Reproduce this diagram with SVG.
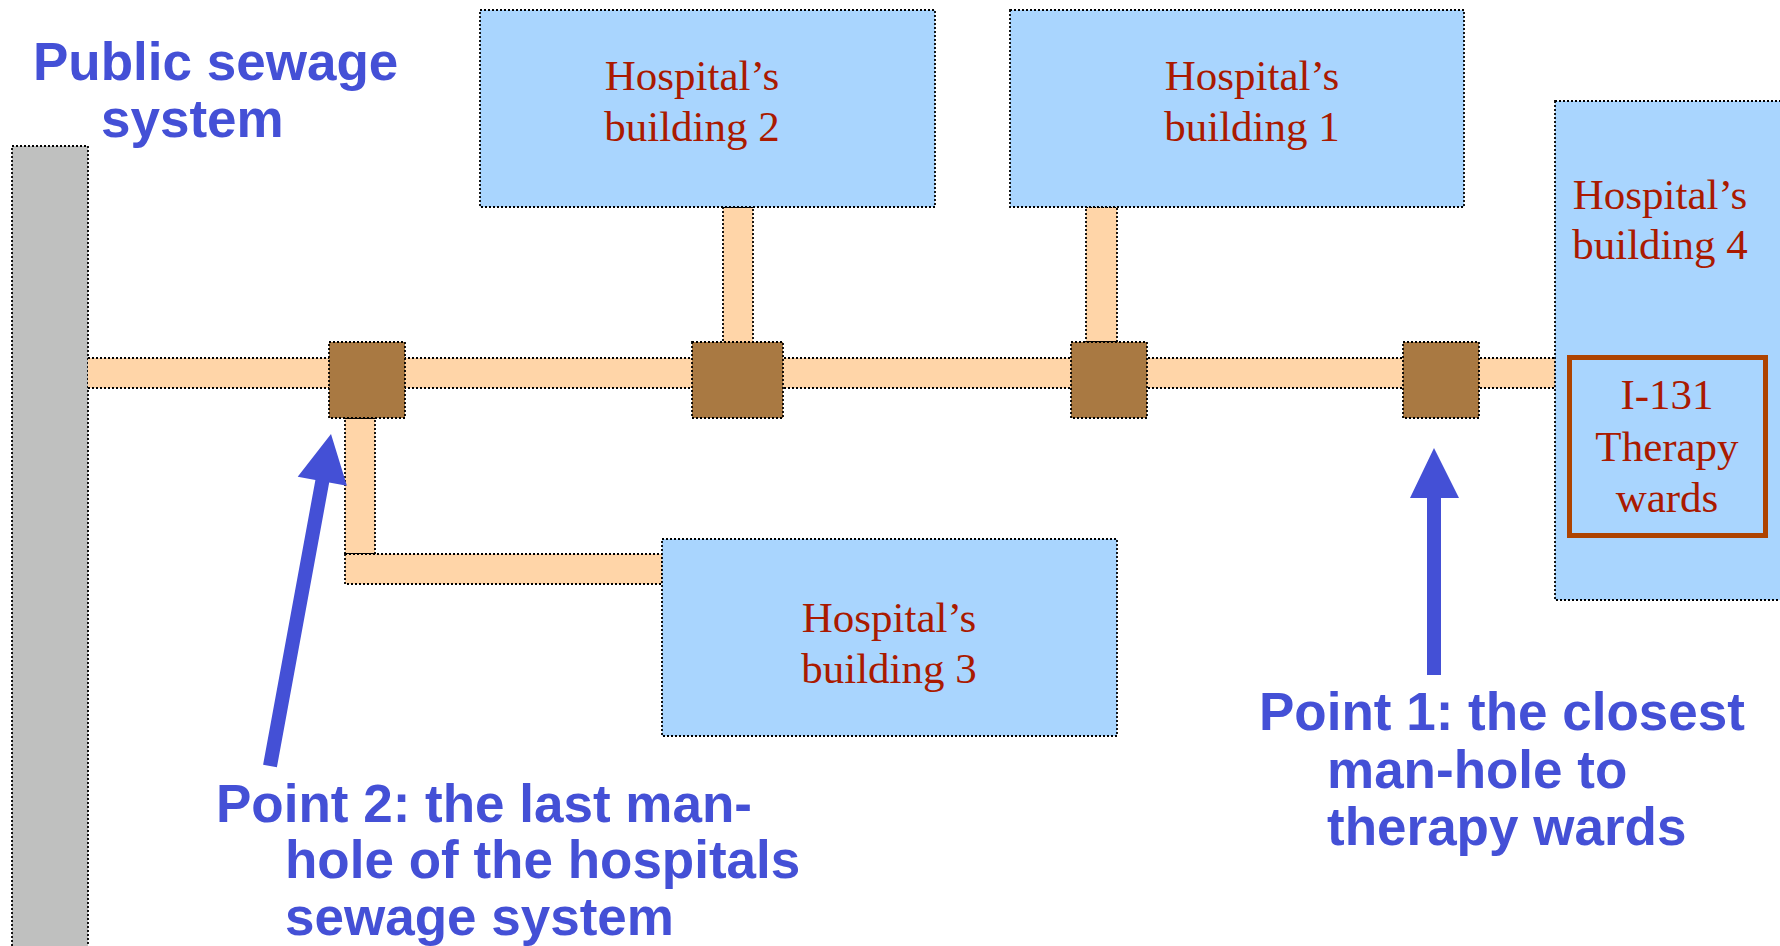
<svg xmlns="http://www.w3.org/2000/svg" width="1780" height="946" viewBox="0 0 1780 946">
<style>
.dot{stroke:#000;stroke-width:1.8;stroke-dasharray:2 2}
.bld{fill:#A9D5FE}
.pipe{fill:#FFD5A8}
.mh{fill:#A97942}
.btxt{font-family:"Liberation Serif","Times New Roman",serif;font-size:43px;fill:#AA1A00;text-anchor:middle}
.lbl{font-family:"Liberation Sans",Arial,sans-serif;font-weight:bold;font-size:53px;fill:#4450D6}
.arrow{fill:#4450D6}
</style>
<rect width="1780" height="946" fill="#fff"/>
<g id="public-sewer">
<rect x="12" y="146" width="76" height="820" fill="#BFC0BF" class="dot"/>
<text class="lbl" x="33" y="80">Public sewage</text>
<text class="lbl" x="101" y="137">system</text>
</g>
<g id="connectors">
<rect x="88" y="358" width="1467" height="30" class="pipe"/>
<line x1="88" y1="358" x2="1555" y2="358" class="dot"/>
<line x1="88" y1="388" x2="1555" y2="388" class="dot"/>
<rect x="723" y="207" width="30" height="135" class="pipe dot"/>
<rect x="1086" y="207" width="31" height="135" class="pipe dot"/>
<rect x="345" y="418" width="30" height="136" class="pipe dot"/>
<rect x="345" y="554" width="317" height="30" class="pipe dot"/>
</g>
<g id="building2">
<rect x="480" y="10" width="455" height="197" class="bld dot"/>
<text class="btxt" x="692" y="90">Hospital’s</text>
<text class="btxt" x="692" y="141">building 2</text>
</g>
<g id="building1">
<rect x="1010" y="10" width="454" height="197" class="bld dot"/>
<text class="btxt" x="1252" y="90">Hospital’s</text>
<text class="btxt" x="1252" y="141">building 1</text>
</g>
<g id="building3">
<rect x="662" y="539" width="455" height="197" class="bld dot"/>
<text class="btxt" x="889" y="632">Hospital’s</text>
<text class="btxt" x="889" y="683">building 3</text>
</g>
<g id="building4">
<rect x="1555" y="101" width="240" height="499" class="bld dot"/>
<text class="btxt" x="1660" y="209">Hospital’s</text>
<text class="btxt" x="1660" y="259">building 4</text>
</g>
<g id="therapy-wards">
<rect x="1569.5" y="357.5" width="196" height="178" fill="none" stroke="#AE4300" stroke-width="5"/>
<text class="btxt" x="1667" y="409">I-131</text>
<text class="btxt" x="1667" y="461">Therapy</text>
<text class="btxt" x="1667" y="512">wards</text>
</g>
<g id="manhole1"><rect x="329" y="342" width="76" height="76" class="mh dot"/></g>
<g id="manhole2"><rect x="692" y="342" width="91" height="76" class="mh dot"/></g>
<g id="manhole3"><rect x="1071" y="342" width="76" height="76" class="mh dot"/></g>
<g id="manhole4"><rect x="1403" y="342" width="76" height="76" class="mh dot"/></g>
<g id="point2">
<polygon class="arrow" points="331,434 346.9,485.7 329.2,482.5 276.9,767.3 263.1,764.7 315.4,479.9 297.7,476.7"/>
<text class="lbl" x="216" y="822">Point 2: the last man-</text>
<text class="lbl" x="285" y="878">hole of the hospitals</text>
<text class="lbl" x="285" y="935">sewage system</text>
</g>
<g id="point1">
<polygon class="arrow" points="1434,448 1459,498 1441,498 1441,675 1427,675 1427,498 1410,498"/>
<text class="lbl" x="1259" y="730">Point 1: the closest</text>
<text class="lbl" x="1327" y="788">man-hole to</text>
<text class="lbl" x="1327" y="845">therapy wards</text>
</g>
</svg>
